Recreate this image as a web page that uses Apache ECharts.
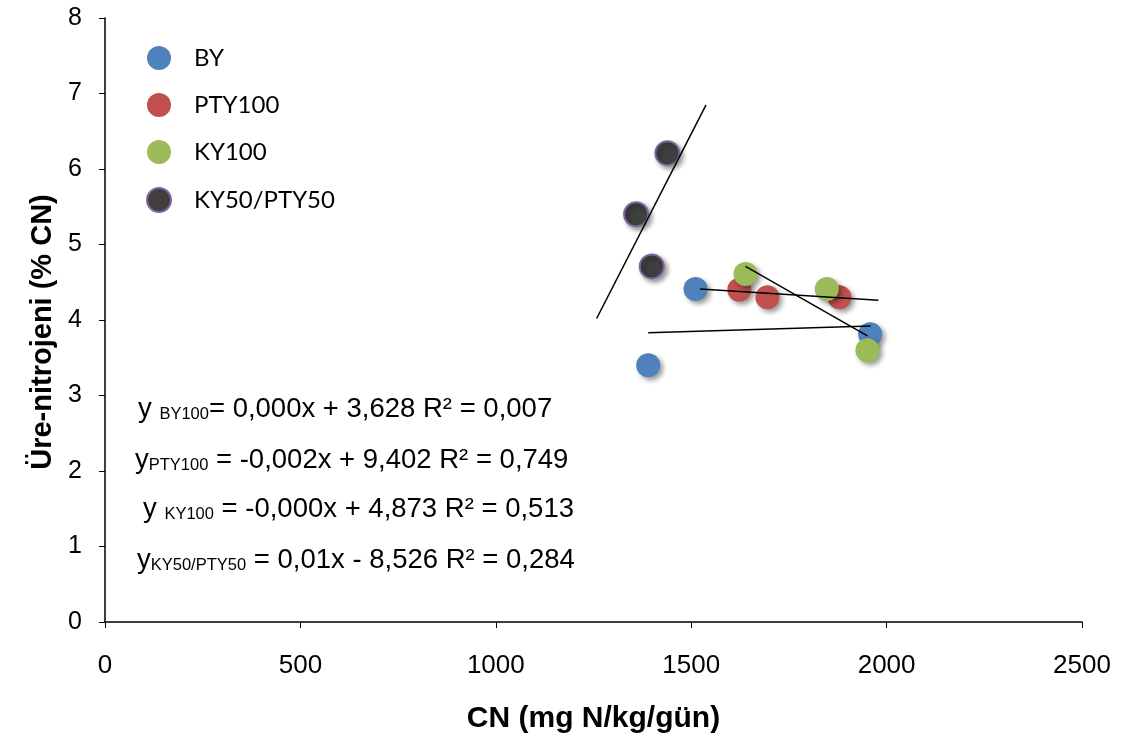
<!DOCTYPE html>
<html>
<head>
<meta charset="utf-8">
<script src="https://cdn.jsdelivr.net/npm/echarts@6/dist/echarts.min.js"></script>
<style>
  html, body { margin: 0; padding: 0; background: #fff; }
  #chart { width: 1122px; height: 742px; }
</style>
</head>
<body>
<div id="chart"></div>
<script>
// data: [CN, ure-N %]
var byPoints = [[1511, 4.41], [1390, 3.40], [1958, 3.81]];
var ptyPoints = [[1623, 4.40], [1695, 4.30], [1879, 4.30]];
var kyPoints = [[1639, 4.61], [1847, 4.41], [1951, 3.60]];
var mixPoints = [[1439, 6.21], [1359, 5.40], [1399, 4.71]];

// trend line ends
var byTrend = [[1390, 3.83], [1959, 3.92]];
var ptyTrend = [[1523, 4.41], [1979, 4.26]];
var kyTrend = [[1639, 4.71], [1951, 3.79]];
var mixTrend = [[1258, 4.02], [1538, 6.85]];

var seriesNames = ['BY', 'PTY100', 'KY100', 'KY50/PTY50'];
var seriesColors = ['#4F81BD', '#C0504D', '#9BBB59', '#3F3F3F'];

var equations = [
  {pre: 'y ', sub: 'BY100', post: '= 0,000x + 3,628 R² = 0,007'},
  {pre: 'y', sub: 'PTY100', post: ' = -0,002x + 9,402 R² = 0,749'},
  {pre: 'y ', sub: 'KY100', post: ' = -0,000x + 4,873 R² = 0,513'},
  {pre: 'y', sub: 'KY50/PTY50', post: ' = 0,01x - 8,526 R² = 0,284'}
];
var eqLeft = [138, 135, 143, 137];
var eqTop = [395, 446, 495, 546];

var font = '"Liberation Sans", Arial, sans-serif';

var chart = echarts.init(document.getElementById('chart'));

function scatter(i, data) {
  var st = {
    color: seriesColors[i],
    opacity: 1,
    shadowBlur: 5,
    shadowOffsetX: 3,
    shadowOffsetY: 3,
    shadowColor: 'rgba(0,0,0,0.4)'
  };
  if (i === 3) { st.borderColor = '#8064A2'; st.borderWidth = 2; }
  return {
    name: seriesNames[i], type: 'scatter', data: data,
    symbolSize: 24, itemStyle: st, z: 2
  };
}

function trend(data) {
  return {
    type: 'line', data: data, symbol: 'none', silent: true, z: 3,
    lineStyle: {color: '#000', width: 1.5}
  };
}

var eqGraphics = equations.map(function (e, i) {
  return {
    type: 'text', left: eqLeft[i], top: eqTop[i],
    style: {
      text: '{m|' + e.pre + '}{s|' + e.sub + '}{m|' + e.post + '}',
      rich: {
        m: {fontSize: 27.5, fontFamily: font, fill: '#000', lineHeight: 34, verticalAlign: 'bottom'},
        s: {fontSize: 16.5, fontFamily: font, fill: '#000', lineHeight: 34, verticalAlign: 'bottom'}
      }
    }
  };
});

chart.setOption({
  animation: false,
  grid: {left: 105, top: 18, right: 40, bottom: 120},
  legend: {
    orient: 'vertical', left: 141, top: 41, itemGap: 23,
    itemWidth: 24, itemHeight: 24, icon: 'circle',
    data: seriesNames,
    textStyle: {fontSize: 24, lineHeight: 24, fontFamily: 'Lato, "Open Sans", sans-serif', color: '#000', padding: [0, 0, 0, 18]}
  },
  xAxis: {
    type: 'value', min: 0, max: 2500, interval: 500,
    name: 'CN (mg N/kg/gün)', nameLocation: 'middle', nameGap: 82,
    nameTextStyle: {fontSize: 30, fontWeight: 'bold', fontFamily: font, color: '#000'},
    axisLine: {lineStyle: {color: '#000', width: 1.5}},
    axisTick: {show: true, length: 6, lineStyle: {color: '#000'}},
    axisLabel: {fontSize: 26, fontFamily: font, color: '#000', margin: 31,
      formatter: function (v) { return String(v); }},
    splitLine: {show: false}
  },
  yAxis: {
    type: 'value', min: 0, max: 8, interval: 1,
    name: 'Üre-nitrojeni (% CN)', nameLocation: 'middle', nameGap: 48,
    nameTextStyle: {fontSize: 29, fontWeight: 'bold', fontFamily: font, color: '#000', padding: [0, 24, 0, 0]},
    axisLine: {show: true, lineStyle: {color: '#000', width: 1.5}},
    axisTick: {show: true, length: 6, lineStyle: {color: '#000'}},
    axisLabel: {fontSize: 25, fontFamily: font, color: '#000', margin: 23},
    splitLine: {show: false}
  },
  series: [
    scatter(0, byPoints),
    scatter(1, ptyPoints),
    scatter(2, kyPoints),
    scatter(3, mixPoints),
    trend(byTrend),
    trend(ptyTrend),
    trend(kyTrend),
    trend(mixTrend)
  ],
  graphic: eqGraphics
});
</script>
</body>
</html>
